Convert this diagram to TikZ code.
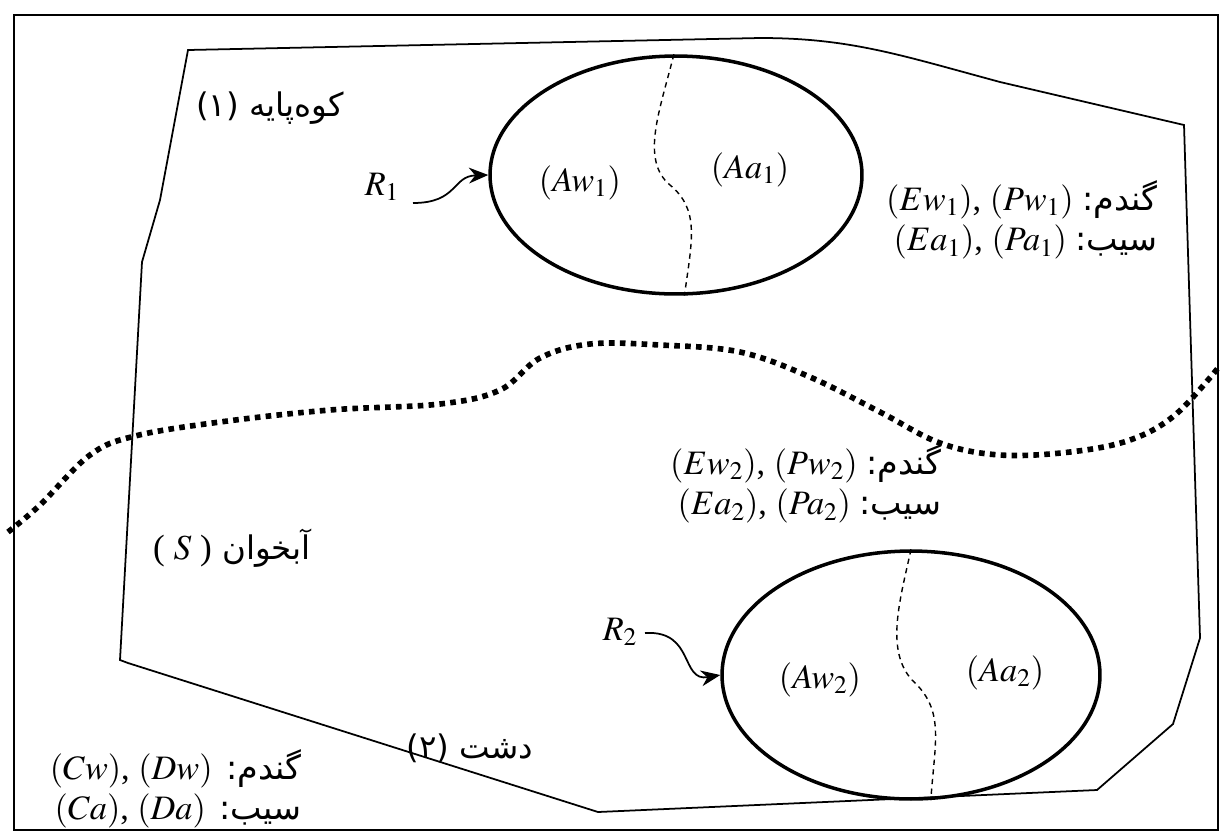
\documentclass[tikz,border=0pt]{standalone}
\usepackage{mathptmx}
\usepackage{fontspec}
\setmainfont{Liberation Serif}
\newfontfamily\arabicfont[Script=Arabic]{DejaVu Sans}
\TeXXeTstate=1
\usetikzlibrary{shapes.geometric, arrows.meta}
\newcommand{\fatext}[1]{{\fontsize{19}{23}\selectfont\arabicfont :\beginR #1\endR}}
\tikzset{
  region/.style={ellipse, draw, line width=2pt, inner sep=0pt},
  divide/.style={dash pattern=on 3pt off 2.5pt, line width=0.8pt},
  lbl/.style={font=\fontsize{19.5}{23}\selectfont, inner sep=0pt},
  fa/.style={font=\fontsize{18.5}{22}\selectfont\arabicfont, inner sep=0pt},
}

\begin{document}
\begin{tikzpicture}[>={Stealth[length=11pt, width=9pt]}, x=0.02cm, y=-0.02cm]
  \useasboundingbox (0,0) rectangle (1226,836);
  \draw[line width=1.1pt] (14,15) rectangle (1218,830);
  \draw[line width=1pt] (188,50) -- (760,38) .. controls (850,38) and (900,55) .. (1000,82)
    -- (1184,125) -- (1200,638) -- (1173,724) -- (1097,790) -- (598,812)
    -- (128,663) -- (120,660) -- (142,262) -- (160,200) -- cycle;
  \draw[line width=3.2pt, dash pattern=on 3.2pt off 3pt] plot[smooth, tension=0.6] coordinates {
    (8,532) (40,505) (90,455) (135,436) (220,422) (330,410) (440,404) (500,390)
    (540,358) (590,344) (660,345) (740,352) (810,377) (880,412) (940,443)
    (1000,455) (1070,452) (1130,440) (1175,415) (1218,368)};

  \node[region, minimum width=7.44cm, minimum height=4.76cm] (reg1) at (676,175) {};
  \node[region, minimum width=7.56cm, minimum height=4.96cm] (reg2) at (911,675) {};
  \draw[divide] (reg1.91) .. controls (660,110) and (640,160) .. (670,185)
    .. controls (700,210) and (692,240) .. (reg1.-86);
  \draw[divide] (reg2.90) .. controls (900,600) and (885,650) .. (912,680)
    .. controls (945,710) and (935,740) .. (reg2.-81);

  \node[lbl] (aw1) at (580,183) {$(Aw_1)$};
  \node[lbl] (aa1) at (750,170) {$(Aa_1)$};
  \node[lbl] (aw2) at (820,680) {$(Aw_2)$};
  \node[lbl] (aa2) at (1005,673) {$(Aa_2)$};

  \node[lbl] (r1) at (382,187) {$R_1$};
  \node[lbl] (r2) at (620,632) {$R_2$};
  \coordinate (r1s) at (413,203);
  \coordinate (r2s) at (645,633);
  \draw[->, line width=1pt] (r1s) .. controls (458,203) and (452,176) .. (reg1.west);
  \draw[->, line width=1pt] (r2s) .. controls (695,630) and (680,682) .. (reg2.west);

  \node[lbl, anchor=east, align=right] (crop1) at (1158,220)
    {$(Ew_1)$, $(Pw_1)$\ \fatext{گندم}\\ $(Ea_1)$, $(Pa_1)$\ \fatext{سیب}};
  \node[lbl, anchor=east, align=right] (crop2) at (942,484)
    {$(Ew_2)$, $(Pw_2)$\ \fatext{گندم}\\ $(Ea_2)$, $(Pa_2)$\ \fatext{سیب}};
  \node[lbl, anchor=east, align=right] (crop3) at (302,789)
    {$(Cw)$, $(Dw)$\hspace{0.4em}\fatext{گندم}\\ $(Ca)$, $(Da)$\hspace{0.4em}\fatext{سیب}};

  \node[fa] (zone1) at (270,108) {(۱) \beginR کوه‌پایه\endR};
  \node[fa] (zone2) at (470,748) {(۲) \beginR دشت\endR};
  \node[fa] (aquifer) at (232,548) {{\fontsize{20}{22}\selectfont\rmfamily( $S$ )} \beginR آبخوان\endR};
\end{tikzpicture}
\end{document}
